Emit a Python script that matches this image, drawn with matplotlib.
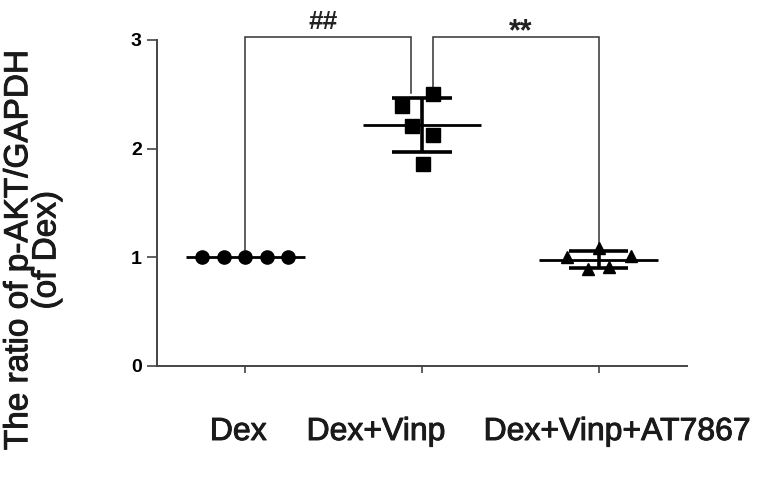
import numpy as np
import matplotlib
matplotlib.use("Agg")
import matplotlib.pyplot as plt
import matplotlib.patheffects as pe

plt.rcParams['font.family'] = ['Liberation Sans', 'DejaVu Sans']

# ---- data ----
groups = ["Dex", "Dex+Vinp", "Dex+Vinp+AT7867"]
dex_vals = [1.0, 1.0, 1.0, 1.0, 1.0]
vinp_vals = [2.39, 2.50, 2.21, 2.125, 1.86]
at_vals = [1.0, 1.09, 0.89, 0.91, 1.01]
# horizontal jitter of the dots
dex_jit = [-0.245, -0.12, 0.0, 0.12, 0.24]
vinp_jit = [-0.115, 0.06, -0.057, 0.06, 0.004]
at_jit = [-0.18, 0.0, -0.063, 0.058, 0.185]
yticks = [0, 1, 2, 3]
sig_labels = ["##", "**"]

values = [dex_vals, vinp_vals, at_vals]
jitters = [dex_jit, vinp_jit, at_jit]
markers = ['o', 's', '^']
msizes = [9.5, 10, 9]

fig = plt.figure(figsize=(7.8, 4.82), dpi=100)
ax = fig.add_axes([157/780, 1-366/482, (687-157)/780, (366-40)/482])

txt_c = '#1a1a1a'
thick = [pe.withStroke(linewidth=0.7, foreground=txt_c)]

spine_c = '#444444'
for i, (vals, jit, m, ms) in enumerate(zip(values, jitters, markers, msizes)):
    x = i + np.array(jit)
    ax.plot(x, vals, linestyle='none', marker=m, markersize=ms, color='black',
            zorder=3, clip_on=False)
    mean = np.mean(vals)
    sd = np.std(vals, ddof=1)
    ax.hlines(mean, i - 0.335, i + 0.335, color='black', lw=2.0, zorder=4)
    if sd > 0:
        ax.vlines(i, mean - sd, mean + sd, color='black', lw=2.6, zorder=4)
        ax.hlines([mean - sd, mean + sd], i - 0.167, i + 0.167, color='black',
                  lw=2.6, zorder=4)

# significance brackets
top = 3.03
br1 = ([0.0, 0.0, 0.94, 0.94], [1.07, top, top, 2.51])
br2 = ([1.065, 1.065, 2.0, 2.0], [2.56, top, top, 1.12])
for bx, by in (br1, br2):
    ax.plot(bx, by, color='#333333', lw=1.1, clip_on=False, zorder=2,
            solid_joinstyle='miter')
ax.text(0.44, 3.10, sig_labels[0], ha='center', va='baseline', fontsize=19,
        fontweight='bold', color='#222222', clip_on=False)
ax.text(1.558, 3.0, sig_labels[1], ha='center', va='baseline', fontsize=22,
        fontweight='bold', color='#222222', clip_on=False)

ax.set_xlim(-0.5, 2.5)
ax.set_ylim(0, 3)
ax.spines['top'].set_visible(False)
ax.spines['right'].set_visible(False)
for s in ('left', 'bottom'):
    ax.spines[s].set_color(spine_c)
    ax.spines[s].set_linewidth(1.4)

ax.set_yticks(yticks)
ax.set_yticklabels([str(t) for t in yticks], fontsize=14, fontweight='bold')
ax.tick_params(axis='y', length=7, width=1.2, color=spine_c, pad=4)
ax.set_xticks(range(len(groups)))
ax.set_xticklabels([''] * len(groups))
ax.tick_params(axis='x', length=5, width=1.2, color=spine_c)

label_x = [-0.04, 0.74, 2.105]
for lx, g in zip(label_x, groups):
    ax.text(lx, -0.227, g, transform=ax.get_xaxis_transform(), ha='center',
            va='baseline', fontsize=23, color=txt_c, path_effects=thick)

fig.text(0.042, 1-250/482, "The ratio of p-AKT/GAPDH\n(of Dex)", rotation=90,
         ha='center', va='center', fontsize=24, linespacing=0.88,
         color=txt_c, multialignment='center', path_effects=thick)

fig.savefig("out.png", dpi=100, facecolor='white')
